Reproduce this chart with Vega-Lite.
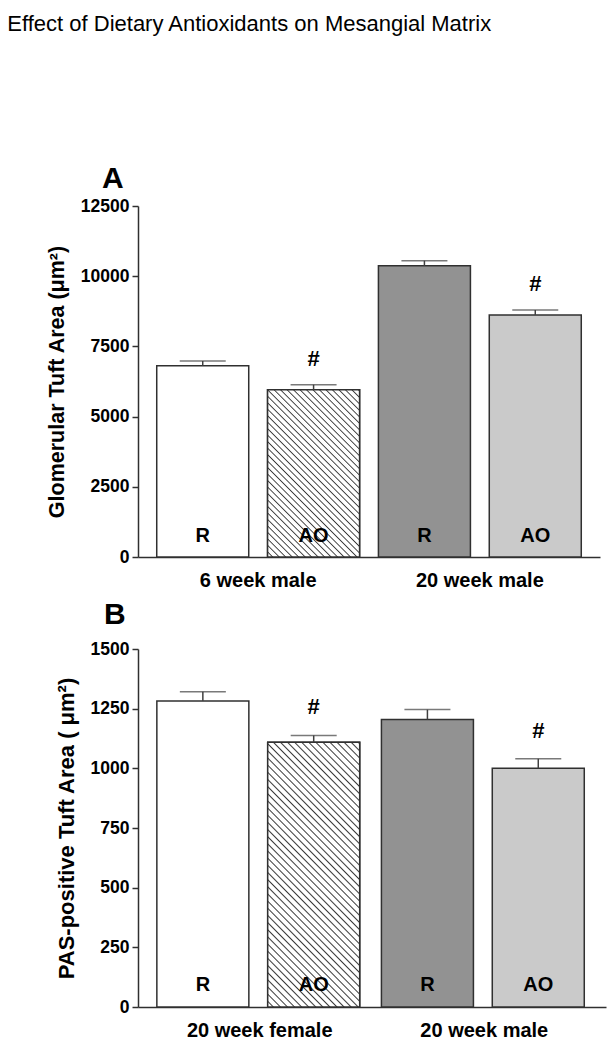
{
"$schema": "https://vega.github.io/schema/vega-lite/v6.json",
"background": "white",
"padding": {"left": 7, "top": 13, "right": 5, "bottom": 5},
"title": {"text": "Effect of Dietary Antioxidants on Mesangial Matrix", "anchor": "start", "fontSize": 22, "fontWeight": "normal", "color": "#000", "font": "Liberation Sans", "offset": 128, "dx": -39},
"config": {
 "view": {"stroke": null},
 "font": "Liberation Sans",
 "axis": {"labelFont": "Liberation Sans", "titleFont": "Liberation Sans", "labelColor": "#000", "titleColor": "#000", "grid": false, "domainColor": "#303030", "tickColor": "#303030", "domainWidth": 1.5, "tickWidth": 1.5},
 "title": {"font": "Liberation Sans", "color": "#000"},
 "text": {"font": "Liberation Sans", "color": "#000"},
 "concat": {"spacing": 10}
},
"vconcat": [
{
 "width": 462, "height": 351,
 "title": {"text": "A", "anchor": "start", "frame": "group", "fontSize": 30, "fontWeight": "bold", "dx": -36, "offset": 3},
 "data": {"values": [
  {"group": "6 week male", "treatment": "R", "bar": 1, "mean": 6813, "upper": 6980, "sig": ""},
  {"group": "6 week male", "treatment": "AO", "bar": 2, "mean": 5958, "upper": 6136, "sig": "#"},
  {"group": "20 week male", "treatment": "R", "bar": 3, "mean": 10374, "upper": 10552, "sig": ""},
  {"group": "20 week male", "treatment": "AO", "bar": 4, "mean": 8618, "upper": 8796, "sig": "#"}
 ]},
 "encoding": {
  "x": {"field": "group", "type": "nominal", "sort": ["6 week male", "20 week male"], "scale": {"paddingInner": 0, "paddingOuter": 0.042}, "axis": {"title": null, "labelAngle": 0, "ticks": false, "tickSize": 0, "labelFontSize": 20, "labelFontWeight": "bold", "labelPadding": 13}},
  "xOffset": {"field": "treatment", "type": "nominal", "sort": ["R", "AO"], "scale": {"paddingInner": 0.17, "paddingOuter": 0.085}}
 },
 "layer": [
  {"mark": {"type": "bar", "stroke": "#303030", "strokeWidth": 1.5},
   "encoding": {
    "y": {"field": "mean", "type": "quantitative", "scale": {"domain": [0, 12500], "nice": false}, "axis": {"title": "Glomerular Tuft Area (μm²)", "values": [0, 2500, 5000, 7500, 10000, 12500], "format": "d", "labelFontSize": 17.5, "labelFontWeight": "bold", "tickSize": 6, "labelPadding": 3, "titleFontSize": 21.5, "titleFontWeight": "bold", "titlePadding": 12}},
    "fill": {"field": "bar", "type": "nominal", "scale": {"domain": [1, 2, 3, 4], "range": ["#ffffff", "#ffffff", "#929292", "#cacaca"]}, "legend": null}
   }},
  {"transform": [{"filter": "datum.bar == 2"}],
   "mark": {"type": "bar", "stroke": "#303030", "strokeWidth": 1.5, "fill": {"gradient": "linear", "x1": 0, "y1": 1, "x2": 0.6544, "y2": -0.19, "stops": [
    {"offset":0,"color":"#fff"},{"offset":0.015,"color":"#fff"},{"offset":0.02,"color":"#3a3a3a"},
    {"offset":0.025,"color":"#fff"},{"offset":0.04,"color":"#fff"},{"offset":0.045,"color":"#3a3a3a"},
    {"offset":0.05,"color":"#fff"},{"offset":0.065,"color":"#fff"},{"offset":0.07,"color":"#3a3a3a"},
    {"offset":0.075,"color":"#fff"},{"offset":0.09,"color":"#fff"},{"offset":0.095,"color":"#3a3a3a"},
    {"offset":0.1,"color":"#fff"},{"offset":0.115,"color":"#fff"},{"offset":0.12,"color":"#3a3a3a"},
    {"offset":0.125,"color":"#fff"},{"offset":0.14,"color":"#fff"},{"offset":0.145,"color":"#3a3a3a"},
    {"offset":0.15,"color":"#fff"},{"offset":0.165,"color":"#fff"},{"offset":0.17,"color":"#3a3a3a"},
    {"offset":0.175,"color":"#fff"},{"offset":0.19,"color":"#fff"},{"offset":0.195,"color":"#3a3a3a"},
    {"offset":0.2,"color":"#fff"},{"offset":0.215,"color":"#fff"},{"offset":0.22,"color":"#3a3a3a"},
    {"offset":0.225,"color":"#fff"},{"offset":0.24,"color":"#fff"},{"offset":0.245,"color":"#3a3a3a"},
    {"offset":0.25,"color":"#fff"},{"offset":0.265,"color":"#fff"},{"offset":0.27,"color":"#3a3a3a"},
    {"offset":0.275,"color":"#fff"},{"offset":0.29,"color":"#fff"},{"offset":0.295,"color":"#3a3a3a"},
    {"offset":0.3,"color":"#fff"},{"offset":0.315,"color":"#fff"},{"offset":0.32,"color":"#3a3a3a"},
    {"offset":0.325,"color":"#fff"},{"offset":0.34,"color":"#fff"},{"offset":0.345,"color":"#3a3a3a"},
    {"offset":0.35,"color":"#fff"},{"offset":0.365,"color":"#fff"},{"offset":0.37,"color":"#3a3a3a"},
    {"offset":0.375,"color":"#fff"},{"offset":0.39,"color":"#fff"},{"offset":0.395,"color":"#3a3a3a"},
    {"offset":0.4,"color":"#fff"},{"offset":0.415,"color":"#fff"},{"offset":0.42,"color":"#3a3a3a"},
    {"offset":0.425,"color":"#fff"},{"offset":0.44,"color":"#fff"},{"offset":0.445,"color":"#3a3a3a"},
    {"offset":0.45,"color":"#fff"},{"offset":0.465,"color":"#fff"},{"offset":0.47,"color":"#3a3a3a"},
    {"offset":0.475,"color":"#fff"},{"offset":0.49,"color":"#fff"},{"offset":0.495,"color":"#3a3a3a"},
    {"offset":0.5,"color":"#fff"},{"offset":0.515,"color":"#fff"},{"offset":0.52,"color":"#3a3a3a"},
    {"offset":0.525,"color":"#fff"},{"offset":0.54,"color":"#fff"},{"offset":0.545,"color":"#3a3a3a"},
    {"offset":0.55,"color":"#fff"},{"offset":0.565,"color":"#fff"},{"offset":0.57,"color":"#3a3a3a"},
    {"offset":0.575,"color":"#fff"},{"offset":0.59,"color":"#fff"},{"offset":0.595,"color":"#3a3a3a"},
    {"offset":0.6,"color":"#fff"},{"offset":0.615,"color":"#fff"},{"offset":0.62,"color":"#3a3a3a"},
    {"offset":0.625,"color":"#fff"},{"offset":0.64,"color":"#fff"},{"offset":0.645,"color":"#3a3a3a"},
    {"offset":0.65,"color":"#fff"},{"offset":0.665,"color":"#fff"},{"offset":0.67,"color":"#3a3a3a"},
    {"offset":0.675,"color":"#fff"},{"offset":0.69,"color":"#fff"},{"offset":0.695,"color":"#3a3a3a"},
    {"offset":0.7,"color":"#fff"},{"offset":0.715,"color":"#fff"},{"offset":0.72,"color":"#3a3a3a"},
    {"offset":0.725,"color":"#fff"},{"offset":0.74,"color":"#fff"},{"offset":0.745,"color":"#3a3a3a"},
    {"offset":0.75,"color":"#fff"},{"offset":0.765,"color":"#fff"},{"offset":0.77,"color":"#3a3a3a"},
    {"offset":0.775,"color":"#fff"},{"offset":0.79,"color":"#fff"},{"offset":0.795,"color":"#3a3a3a"},
    {"offset":0.8,"color":"#fff"},{"offset":0.815,"color":"#fff"},{"offset":0.82,"color":"#3a3a3a"},
    {"offset":0.825,"color":"#fff"},{"offset":0.84,"color":"#fff"},{"offset":0.845,"color":"#3a3a3a"},
    {"offset":0.85,"color":"#fff"},{"offset":0.865,"color":"#fff"},{"offset":0.87,"color":"#3a3a3a"},
    {"offset":0.875,"color":"#fff"},{"offset":0.89,"color":"#fff"},{"offset":0.895,"color":"#3a3a3a"},
    {"offset":0.9,"color":"#fff"},{"offset":0.915,"color":"#fff"},{"offset":0.92,"color":"#3a3a3a"},
    {"offset":0.925,"color":"#fff"},{"offset":0.94,"color":"#fff"},{"offset":0.945,"color":"#3a3a3a"},
    {"offset":0.95,"color":"#fff"},{"offset":0.965,"color":"#fff"},{"offset":0.97,"color":"#3a3a3a"},
    {"offset":0.975,"color":"#fff"},{"offset":0.99,"color":"#fff"},{"offset":0.995,"color":"#3a3a3a"},
    {"offset":1,"color":"#fff"}
   ]}},
   "encoding": {"y": {"field": "mean", "type": "quantitative"}}},
  {"mark": {"type": "rule", "color": "#404040", "strokeWidth": 1.5},
   "encoding": {"y": {"field": "mean", "type": "quantitative"}, "y2": {"field": "upper"}}},
  {"mark": {"type": "tick", "color": "#404040", "thickness": 1.5, "size": 46},
   "encoding": {"y": {"field": "upper", "type": "quantitative"}}},
  {"mark": {"type": "text", "fontSize": 20, "fontWeight": "bold", "baseline": "middle", "dy": -21},
   "encoding": {"y": {"datum": 0, "type": "quantitative"}, "text": {"field": "treatment"}}},
  {"transform": [{"filter": "datum.sig == '#'"}],
   "mark": {"type": "text", "fontSize": 22, "fontWeight": "bold", "baseline": "middle", "dy": -26},
   "encoding": {"y": {"field": "upper", "type": "quantitative"}, "text": {"field": "sig"}}}
 ]
},
{
 "width": 468, "height": 358,
 "title": {"text": "B", "anchor": "start", "frame": "group", "fontSize": 30, "fontWeight": "bold", "dx": -34, "offset": 10},
 "data": {"values": [
  {"group": "20 week female", "treatment": "R", "bar": 1, "mean": 1282, "upper": 1321, "sig": ""},
  {"group": "20 week female", "treatment": "AO", "bar": 2, "mean": 1109, "upper": 1138, "sig": "#"},
  {"group": "20 week male", "treatment": "R", "bar": 3, "mean": 1205, "upper": 1246, "sig": ""},
  {"group": "20 week male", "treatment": "AO", "bar": 4, "mean": 1000, "upper": 1040, "sig": "#"}
 ]},
 "encoding": {
  "x": {"field": "group", "type": "nominal", "sort": ["20 week female", "20 week male"], "scale": {"paddingInner": 0, "paddingOuter": 0.042}, "axis": {"title": null, "labelAngle": 0, "ticks": false, "tickSize": 0, "labelFontSize": 20, "labelFontWeight": "bold", "labelPadding": 13}},
  "xOffset": {"field": "treatment", "type": "nominal", "sort": ["R", "AO"], "scale": {"paddingInner": 0.17, "paddingOuter": 0.085}}
 },
 "layer": [
  {"mark": {"type": "bar", "stroke": "#303030", "strokeWidth": 1.5},
   "encoding": {
    "y": {"field": "mean", "type": "quantitative", "scale": {"domain": [0, 1500], "nice": false}, "axis": {"title": "PAS-positive Tuft Area ( μm²)", "values": [0, 250, 500, 750, 1000, 1250, 1500], "format": "d", "labelFontSize": 17.5, "labelFontWeight": "bold", "tickSize": 6, "labelPadding": 3, "titleFontSize": 22, "titleFontWeight": "bold", "titlePadding": 12}},
    "fill": {"field": "bar", "type": "nominal", "scale": {"domain": [1, 2, 3, 4], "range": ["#ffffff", "#ffffff", "#929292", "#cacaca"]}, "legend": null}
   }},
  {"transform": [{"filter": "datum.bar == 2"}],
   "mark": {"type": "bar", "stroke": "#303030", "strokeWidth": 1.5, "fill": {"gradient": "linear", "x1": 0, "y1": 1, "x2": 0.4232, "y2": -0.2029, "stops": [
    {"offset":0,"color":"#fff"},{"offset":0.012,"color":"#fff"},{"offset":0.016,"color":"#3a3a3a"},
    {"offset":0.02,"color":"#fff"},{"offset":0.032,"color":"#fff"},{"offset":0.036,"color":"#3a3a3a"},
    {"offset":0.04,"color":"#fff"},{"offset":0.052,"color":"#fff"},{"offset":0.056,"color":"#3a3a3a"},
    {"offset":0.06,"color":"#fff"},{"offset":0.072,"color":"#fff"},{"offset":0.076,"color":"#3a3a3a"},
    {"offset":0.08,"color":"#fff"},{"offset":0.092,"color":"#fff"},{"offset":0.096,"color":"#3a3a3a"},
    {"offset":0.1,"color":"#fff"},{"offset":0.112,"color":"#fff"},{"offset":0.116,"color":"#3a3a3a"},
    {"offset":0.12,"color":"#fff"},{"offset":0.132,"color":"#fff"},{"offset":0.136,"color":"#3a3a3a"},
    {"offset":0.14,"color":"#fff"},{"offset":0.152,"color":"#fff"},{"offset":0.156,"color":"#3a3a3a"},
    {"offset":0.16,"color":"#fff"},{"offset":0.172,"color":"#fff"},{"offset":0.176,"color":"#3a3a3a"},
    {"offset":0.18,"color":"#fff"},{"offset":0.192,"color":"#fff"},{"offset":0.196,"color":"#3a3a3a"},
    {"offset":0.2,"color":"#fff"},{"offset":0.212,"color":"#fff"},{"offset":0.216,"color":"#3a3a3a"},
    {"offset":0.22,"color":"#fff"},{"offset":0.232,"color":"#fff"},{"offset":0.236,"color":"#3a3a3a"},
    {"offset":0.24,"color":"#fff"},{"offset":0.252,"color":"#fff"},{"offset":0.256,"color":"#3a3a3a"},
    {"offset":0.26,"color":"#fff"},{"offset":0.272,"color":"#fff"},{"offset":0.276,"color":"#3a3a3a"},
    {"offset":0.28,"color":"#fff"},{"offset":0.292,"color":"#fff"},{"offset":0.296,"color":"#3a3a3a"},
    {"offset":0.3,"color":"#fff"},{"offset":0.312,"color":"#fff"},{"offset":0.316,"color":"#3a3a3a"},
    {"offset":0.32,"color":"#fff"},{"offset":0.332,"color":"#fff"},{"offset":0.336,"color":"#3a3a3a"},
    {"offset":0.34,"color":"#fff"},{"offset":0.352,"color":"#fff"},{"offset":0.356,"color":"#3a3a3a"},
    {"offset":0.36,"color":"#fff"},{"offset":0.372,"color":"#fff"},{"offset":0.376,"color":"#3a3a3a"},
    {"offset":0.38,"color":"#fff"},{"offset":0.392,"color":"#fff"},{"offset":0.396,"color":"#3a3a3a"},
    {"offset":0.4,"color":"#fff"},{"offset":0.412,"color":"#fff"},{"offset":0.416,"color":"#3a3a3a"},
    {"offset":0.42,"color":"#fff"},{"offset":0.432,"color":"#fff"},{"offset":0.436,"color":"#3a3a3a"},
    {"offset":0.44,"color":"#fff"},{"offset":0.452,"color":"#fff"},{"offset":0.456,"color":"#3a3a3a"},
    {"offset":0.46,"color":"#fff"},{"offset":0.472,"color":"#fff"},{"offset":0.476,"color":"#3a3a3a"},
    {"offset":0.48,"color":"#fff"},{"offset":0.492,"color":"#fff"},{"offset":0.496,"color":"#3a3a3a"},
    {"offset":0.5,"color":"#fff"},{"offset":0.512,"color":"#fff"},{"offset":0.516,"color":"#3a3a3a"},
    {"offset":0.52,"color":"#fff"},{"offset":0.532,"color":"#fff"},{"offset":0.536,"color":"#3a3a3a"},
    {"offset":0.54,"color":"#fff"},{"offset":0.552,"color":"#fff"},{"offset":0.556,"color":"#3a3a3a"},
    {"offset":0.56,"color":"#fff"},{"offset":0.572,"color":"#fff"},{"offset":0.576,"color":"#3a3a3a"},
    {"offset":0.58,"color":"#fff"},{"offset":0.592,"color":"#fff"},{"offset":0.596,"color":"#3a3a3a"},
    {"offset":0.6,"color":"#fff"},{"offset":0.612,"color":"#fff"},{"offset":0.616,"color":"#3a3a3a"},
    {"offset":0.62,"color":"#fff"},{"offset":0.632,"color":"#fff"},{"offset":0.636,"color":"#3a3a3a"},
    {"offset":0.64,"color":"#fff"},{"offset":0.652,"color":"#fff"},{"offset":0.656,"color":"#3a3a3a"},
    {"offset":0.66,"color":"#fff"},{"offset":0.672,"color":"#fff"},{"offset":0.676,"color":"#3a3a3a"},
    {"offset":0.68,"color":"#fff"},{"offset":0.692,"color":"#fff"},{"offset":0.696,"color":"#3a3a3a"},
    {"offset":0.7,"color":"#fff"},{"offset":0.712,"color":"#fff"},{"offset":0.716,"color":"#3a3a3a"},
    {"offset":0.72,"color":"#fff"},{"offset":0.732,"color":"#fff"},{"offset":0.736,"color":"#3a3a3a"},
    {"offset":0.74,"color":"#fff"},{"offset":0.752,"color":"#fff"},{"offset":0.756,"color":"#3a3a3a"},
    {"offset":0.76,"color":"#fff"},{"offset":0.772,"color":"#fff"},{"offset":0.776,"color":"#3a3a3a"},
    {"offset":0.78,"color":"#fff"},{"offset":0.792,"color":"#fff"},{"offset":0.796,"color":"#3a3a3a"},
    {"offset":0.8,"color":"#fff"},{"offset":0.812,"color":"#fff"},{"offset":0.816,"color":"#3a3a3a"},
    {"offset":0.82,"color":"#fff"},{"offset":0.832,"color":"#fff"},{"offset":0.836,"color":"#3a3a3a"},
    {"offset":0.84,"color":"#fff"},{"offset":0.852,"color":"#fff"},{"offset":0.856,"color":"#3a3a3a"},
    {"offset":0.86,"color":"#fff"},{"offset":0.872,"color":"#fff"},{"offset":0.876,"color":"#3a3a3a"},
    {"offset":0.88,"color":"#fff"},{"offset":0.892,"color":"#fff"},{"offset":0.896,"color":"#3a3a3a"},
    {"offset":0.9,"color":"#fff"},{"offset":0.912,"color":"#fff"},{"offset":0.916,"color":"#3a3a3a"},
    {"offset":0.92,"color":"#fff"},{"offset":0.932,"color":"#fff"},{"offset":0.936,"color":"#3a3a3a"},
    {"offset":0.94,"color":"#fff"},{"offset":0.952,"color":"#fff"},{"offset":0.956,"color":"#3a3a3a"},
    {"offset":0.96,"color":"#fff"},{"offset":0.972,"color":"#fff"},{"offset":0.976,"color":"#3a3a3a"},
    {"offset":0.98,"color":"#fff"},{"offset":0.992,"color":"#fff"},{"offset":0.996,"color":"#3a3a3a"},
    {"offset":1,"color":"#fff"}
   ]}},
   "encoding": {"y": {"field": "mean", "type": "quantitative"}}},
  {"mark": {"type": "rule", "color": "#404040", "strokeWidth": 1.5},
   "encoding": {"y": {"field": "mean", "type": "quantitative"}, "y2": {"field": "upper"}}},
  {"mark": {"type": "tick", "color": "#404040", "thickness": 1.5, "size": 46},
   "encoding": {"y": {"field": "upper", "type": "quantitative"}}},
  {"mark": {"type": "text", "fontSize": 20, "fontWeight": "bold", "baseline": "middle", "dy": -22},
   "encoding": {"y": {"datum": 0, "type": "quantitative"}, "text": {"field": "treatment"}}},
  {"transform": [{"filter": "datum.sig == '#'"}],
   "mark": {"type": "text", "fontSize": 22, "fontWeight": "bold", "baseline": "middle", "dy": -28},
   "encoding": {"y": {"field": "upper", "type": "quantitative"}, "text": {"field": "sig"}}}
 ]
}
]
}
